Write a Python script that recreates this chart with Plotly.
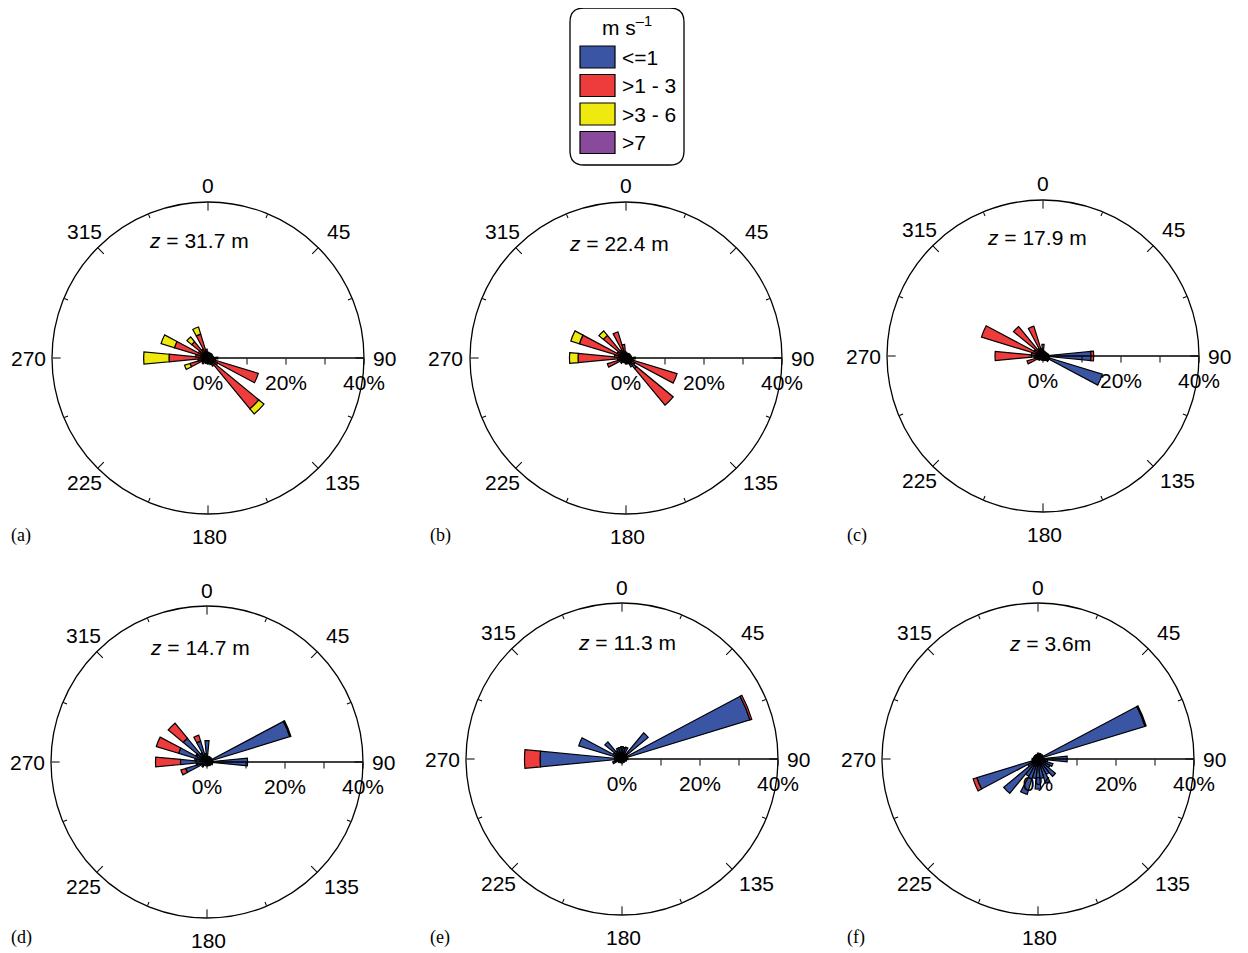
import plotly.graph_objects as go

W, H = 1248, 953

DIRECTIONS = [i * 11.25 for i in range(32)]
CLASSES = ["<=1", ">1 - 3", ">3 - 6", ">7"]
CLASS_LABELS = ["&lt;=1", "&gt;1 - 3", "&gt;3 - 6", "&gt;7"]
COLORS = ["#3A55A4", "#EE3B3B", "#EEEA10", "#8A4A9C"]

ANG_TICKS = [0, 45, 90, 135, 180, 225, 270, 315]
ANG_LABELS = ["0", "45", "90", "135", "180", "225", "270", "315"]
MINOR_TICKS = [22.5, 67.5, 112.5, 157.5, 202.5, 247.5, 292.5, 337.5]
RAD_TICKS = [0, 20, 40]
RAD_LABELS = ["0%", "20%", "40%"]
RAD_MINOR = [10, 30]

PANELS = ["(a)", "(b)", "(c)", "(d)", "(e)", "(f)"]
HEIGHTS = ["<i>z</i> = 31.7 m", "<i>z</i> = 22.4 m", "<i>z</i> = 17.9 m",
           "<i>z</i> = 14.7 m", "<i>z</i> = 11.3 m", "<i>z</i> = 3.6m"]

NO_GT7 = [0, 0, 0, 0, 0, 0, 0, 0, 0, 0, 0, 0, 0, 0, 0, 0,
          0, 0, 0, 0, 0, 0, 0, 0, 0, 0, 0, 0, 0, 0, 0, 0]

# (a) z = 31.7 m
A_LE1 = [0.5, 0.5, 0.6, 0.5, 0.6, 0.5, 0.6, 0.6, 0.8, 0.6, 0.8, 0.6, 0.8, 0.6, 0.6, 0.5,
         0.5, 0.5, 0.5, 0.5, 0.6, 0.5, 0.5, 0.6, 1.0, 0.6, 0.8, 0.6, 0.6, 0.6, 0.6, 0.5]
A_1TO3 = [1.0, 0.7, 0.8, 0.6, 0.8, 0.6, 0.7, 0.8, 1.7, 1.4, 12.7, 2.2, 16.1, 1.8, 1.2, 0.8,
          1.0, 0.7, 1.0, 0.7, 1.4, 1.2, 4.3, 2.0, 9.0, 2.6, 8.2, 2.2, 4.8, 2.0, 5.8, 1.8]
A_3TO6 = [0, 0, 0, 0, 0, 0, 0, 0, 0, 0, 0, 0, 1.7, 0, 0, 0,
          0, 0, 0, 0, 0, 0, 1.5, 0, 6.5, 0, 3.6, 0, 1.6, 0, 1.9, 0]

# (b) z = 22.4 m
B_LE1 = [0.5, 0.5, 0.5, 0.5, 0.6, 0.5, 0.6, 0.6, 0.8, 0.8, 0.8, 0.8, 3.5, 1.0, 0.6, 0.5,
         0.5, 0.5, 0.5, 0.5, 0.6, 0.5, 0.5, 0.6, 1.0, 0.6, 1.0, 0.6, 0.8, 0.6, 0.6, 0.5]
B_1TO3 = [1.0, 0.6, 0.8, 0.6, 0.8, 0.6, 0.8, 0.8, 1.6, 1.2, 12.9, 1.8, 12.2, 1.6, 1.0, 0.8,
          1.0, 0.6, 0.8, 0.6, 1.2, 1.0, 4.5, 1.6, 11.3, 2.4, 11.5, 2.0, 6.7, 1.8, 6.4, 3.0]
B_3TO6 = [0, 0, 0, 0, 0, 0, 0, 0, 0, 0, 0, 0, 0, 0, 0, 0,
          0, 0, 0, 0, 0, 0, 0, 0, 2.2, 0, 2.3, 0, 1.5, 0, 0, 0]

# (c) z = 17.9 m
C_LE1 = [0.5, 0.5, 0.6, 0.6, 0.8, 0.8, 1.0, 1.2, 12.3, 1.5, 15.9, 1.5, 1.5, 1.0, 0.8, 0.6,
         0.6, 0.5, 0.5, 0.5, 0.6, 0.6, 1.5, 0.8, 3.0, 0.8, 0.8, 0.6, 0.8, 0.6, 0.6, 0.5]
C_1TO3 = [2.5, 0.8, 0.6, 0.4, 0.4, 0.3, 0.3, 0.3, 0.7, 0.2, 0, 0.2, 0.3, 0.3, 0.4, 0.4,
          0.5, 0.5, 0.6, 0.6, 0.8, 1.0, 2.8, 1.5, 9.3, 2.2, 15.7, 2.0, 9.0, 1.6, 7.4, 1.5]
C_3TO6 = [0, 0, 0, 0, 0, 0, 0, 0, 0, 0, 0, 0, 0, 0, 0, 0,
          0, 0, 0, 0, 0, 0, 0, 0, 0, 0, 0, 0, 0, 0, 0, 0]

# (d) z = 14.7 m
D_LE1 = [5.5, 1.2, 1.5, 1.2, 1.5, 1.4, 22.2, 1.5, 10.4, 1.2, 1.5, 1.0, 1.2, 0.8, 1.0, 0.8,
         1.0, 0.8, 1.0, 0.8, 1.5, 1.2, 5.7, 2.5, 6.8, 2.8, 7.6, 3.0, 7.9, 2.5, 5.6, 2.2]
D_1TO3 = [0, 0, 0, 0, 0, 0, 0.3, 0, 0, 0, 0, 0, 0, 0, 0, 0,
          0, 0, 0, 0, 0.2, 0.2, 1.3, 0.3, 6.4, 0.4, 6.0, 0.3, 5.0, 0.2, 1.6, 0]
D_3TO6 = [0, 0, 0, 0, 0, 0, 0, 0, 0, 0, 0, 0, 0, 0, 0, 0,
          0, 0, 0, 0, 0, 0, 0, 0, 0, 0, 0, 0, 0, 0, 0, 0]

# (e) z = 11.3 m
E_LE1 = [3.2, 3.0, 3.2, 1.5, 8.7, 1.5, 34.3, 1.2, 1.5, 1.0, 1.2, 0.8, 1.0, 0.8, 1.0, 0.8,
         1.0, 0.8, 1.0, 0.8, 1.2, 1.2, 2.5, 2.0, 21.0, 2.0, 11.6, 2.5, 5.7, 2.5, 3.0, 3.0]
E_1TO3 = [0, 0, 0, 0, 0, 0, 0.5, 0, 0, 0, 0, 0, 0, 0, 0, 0,
          0, 0, 0, 0, 0, 0, 0, 0, 4.0, 0, 0, 0, 0, 0, 0, 0]
E_3TO6 = [0, 0, 0, 0, 0, 0, 0, 0, 0, 0, 0, 0, 0, 0, 0, 0,
          0, 0, 0, 0, 0, 0, 0, 0, 0, 0, 0, 0, 0, 0, 0, 0]

# (f) z = 3.6 m
F_LE1 = [1.5, 1.2, 1.5, 1.2, 1.5, 1.5, 28.7, 1.5, 7.5, 2.5, 4.0, 3.5, 5.8, 4.5, 6.5, 5.0,
         7.7, 5.0, 9.5, 5.0, 11.4, 3.0, 16.4, 1.5, 1.5, 1.2, 1.2, 1.0, 1.2, 1.0, 1.2, 1.0]
F_1TO3 = [0, 0, 0, 0, 0, 0, 0.3, 0, 0, 0, 0, 0, 0, 0, 0, 0,
          0, 0, 0, 0, 0, 0, 1.0, 0, 0, 0, 0, 0, 0, 0, 0, 0]
F_3TO6 = [0, 0, 0, 0, 0, 0, 0, 0, 0, 0, 0, 0, 0, 0, 0, 0,
          0, 0, 0, 0, 0, 0, 0, 0, 0, 0, 0, 0, 0, 0, 0, 0]

SERIES = [
    [A_LE1, A_1TO3, A_3TO6, NO_GT7],
    [B_LE1, B_1TO3, B_3TO6, NO_GT7],
    [C_LE1, C_1TO3, C_3TO6, NO_GT7],
    [D_LE1, D_1TO3, D_3TO6, NO_GT7],
    [E_LE1, E_1TO3, E_3TO6, NO_GT7],
    [F_LE1, F_1TO3, F_3TO6, NO_GT7],
]

# layout geometry (pixels, screen coordinates)
CENTERS = [(208, 358), (626, 358), (1043, 356), (207, 762), (622, 759), (1038, 759)]
RADIUS = 156
OFF = 8  # page body margin
FONT = "Liberation Sans"
# placement of the compass labels relative to each circle centre (pixels)
ANG_LABEL_DX = [0, 130, 176, 134, 1, -124, -180, -124]
ANG_LABEL_DY = [-172, -127, 0, 124, 178, 124, 0, -127]


def px(x):
    return (x - OFF) / W


def py(y):
    return 1 - (y - OFF) / H


fig = go.Figure()
layout = dict(
    width=W, height=H, autosize=False,
    margin=dict(l=0, r=0, t=0, b=0),
    paper_bgcolor="white", plot_bgcolor="white",
    showlegend=False,
)

annotations = []
shapes = []
tickfont = dict(family=FONT, size=21, color="black")

for k, (cx, cy) in enumerate(CENTERS):
    name = "polar" if k == 0 else f"polar{k + 1}"
    minor_name = f"polar{k + 7}"
    dom = dict(x=[px(cx - RADIUS), px(cx + RADIUS)], y=[py(cy + RADIUS), py(cy - RADIUS)])
    layout[name] = dict(
        domain=dom, bgcolor="rgba(0,0,0,0)", barmode="stack",
        angularaxis=dict(direction="clockwise", rotation=90, tickmode="array",
                         tickvals=ANG_TICKS, showticklabels=False, ticks="inside",
                         ticklen=8, tickwidth=1.2, tickcolor="black", showline=True,
                         linecolor="black", linewidth=1.3, showgrid=False),
        radialaxis=dict(range=[0, 40], angle=0, side="clockwise", tickmode="array",
                        tickvals=RAD_TICKS, ticktext=RAD_LABELS, ticks="outside",
                        ticklen=6, tickwidth=1.2, tickcolor="black", showline=True,
                        linecolor="black", linewidth=1.3, showgrid=False,
                        tickfont=tickfont),
    )
    layout[minor_name] = dict(
        domain=dom, bgcolor="rgba(0,0,0,0)",
        angularaxis=dict(direction="clockwise", rotation=90, tickmode="array",
                         tickvals=MINOR_TICKS, showticklabels=False,
                         ticks="inside", ticklen=4, tickwidth=1.2, tickcolor="black",
                         showline=False, showgrid=False),
        radialaxis=dict(range=[0, 40], angle=0, side="clockwise", tickmode="array",
                        tickvals=RAD_MINOR, showticklabels=False, ticks="outside",
                        ticklen=6, tickwidth=1.2, tickcolor="black", showline=False,
                        showgrid=False),
    )
    for c, values in enumerate(SERIES[k]):
        fig.add_trace(go.Barpolar(
            r=values, theta=DIRECTIONS, width=11, name=CLASSES[c],
            marker=dict(color=COLORS[c], line=dict(color="black", width=1.2)),
            subplot=name, showlegend=False, hoverinfo="skip",
        ))
    fig.add_trace(go.Scatterpolar(r=[None], theta=[None], subplot=minor_name,
                                  mode="markers", showlegend=False, hoverinfo="skip"))

    # compass labels
    for lab, dx, dy in zip(ANG_LABELS, ANG_LABEL_DX, ANG_LABEL_DY):
        annotations.append(dict(x=px(cx + dx), y=py(cy + dy), xref="paper", yref="paper",
                                text=lab, showarrow=False, xanchor="center",
                                yanchor="middle", font=tickfont))

    # height label inside the circle
    hx = [199, 619, 1037, 200, 627, 1050][k]
    hy = [241, 243, 237, 647, 642, 643][k]
    annotations.append(dict(x=px(hx), y=py(hy), xref="paper", yref="paper",
                            text=HEIGHTS[k], showarrow=False, xanchor="center", yanchor="middle",
                            font=dict(family=FONT, size=21, color="black")))
    # panel letter
    lx = [21, 440, 857, 21, 440, 856][k]
    ly = [535, 535, 535, 937, 937, 937][k]
    annotations.append(dict(x=px(lx), y=py(ly), xref="paper", yref="paper",
                            text=PANELS[k], showarrow=False, xanchor="center", yanchor="middle",
                            font=dict(family="Liberation Serif", size=18, color="black")))

# custom legend (rounded box)
x0, x1, y0, y1, rr = 570, 684, 8, 165, 14
path = (f"M {px(x0 + rr)},{py(y0)} L {px(x1 - rr)},{py(y0)} "
        f"Q {px(x1)},{py(y0)} {px(x1)},{py(y0 + rr)} L {px(x1)},{py(y1 - rr)} "
        f"Q {px(x1)},{py(y1)} {px(x1 - rr)},{py(y1)} L {px(x0 + rr)},{py(y1)} "
        f"Q {px(x0)},{py(y1)} {px(x0)},{py(y1 - rr)} L {px(x0)},{py(y0 + rr)} "
        f"Q {px(x0)},{py(y0)} {px(x0 + rr)},{py(y0)} Z")
shapes.append(dict(type="path", path=path, xref="paper", yref="paper",
                   line=dict(color="black", width=1.3), fillcolor="white"))
annotations.append(dict(x=px(627), y=py(26), xref="paper", yref="paper",
                        text="m s<sup>–1</sup>", showarrow=False, xanchor="center",
                        yanchor="middle", font=dict(family=FONT, size=21, color="black")))
for c, lab in enumerate(CLASS_LABELS):
    top = 46 + c * 28.5
    shapes.append(dict(type="rect", xref="paper", yref="paper",
                       x0=px(580), x1=px(615), y0=py(top), y1=py(top + 22),
                       fillcolor=COLORS[c], line=dict(color="black", width=1.2)))
    annotations.append(dict(x=px(620), y=py(top + 11), xref="paper", yref="paper",
                            text=lab, showarrow=False, xanchor="left", yanchor="middle",
                            font=dict(family=FONT, size=21, color="black")))

layout["annotations"] = annotations
layout["shapes"] = shapes
fig.update_layout(**layout)
fig.write_html("out.html")
